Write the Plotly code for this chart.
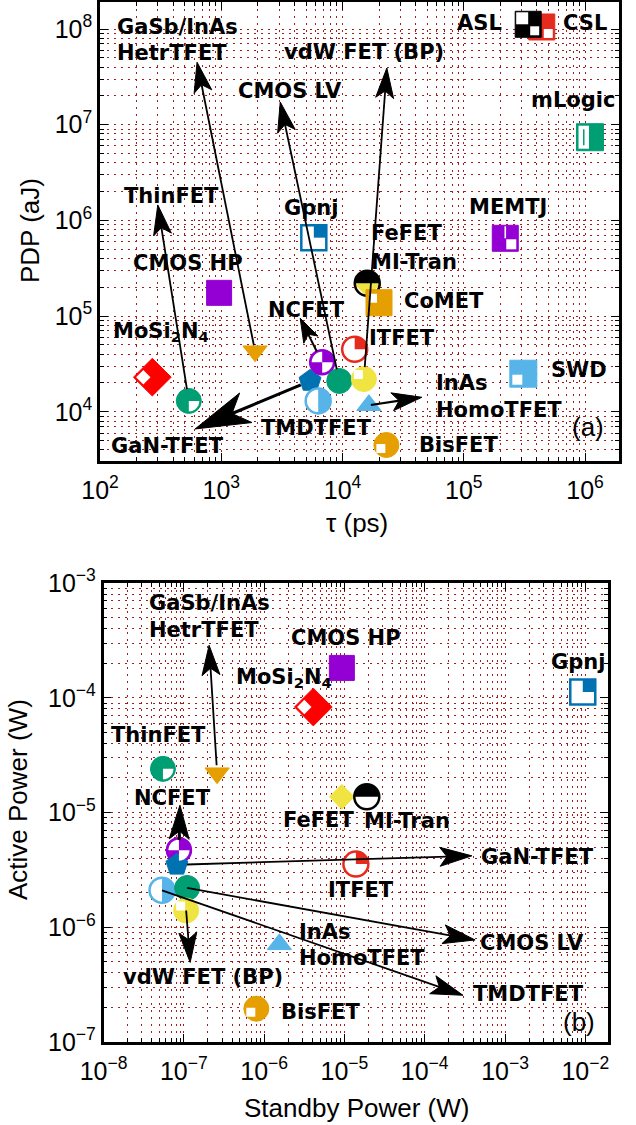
import numpy as np
import plotly.graph_objects as go

W, H = 636, 1125

# ---------------- data ----------------
# Panel (a): delay tau (ps) vs power-delay product PDP (aJ)
a_devices = ["CSL", "ASL", "mLogic", "MEMTJ", "Gpnj", "CMOS HP", "FeFET", "MI-Tran", "CoMET",
             "ITFET", "GaN-TFET", "NCFET", "TMDTFET", "CMOS LV", "vdW FET (BP)",
             "InAs HomoTFET", "ThinFET", "MoSi2N4", "GaSb/InAs HetrTFET", "BisFET", "SWD"]
a_tau_ps = [4.4e5, 3.4e5, 1.1e6, 2.2e5, 5.8e3, 9.6e2, 1.6e4, 1.6e4, 2.0e4,
            1.26e4, 5.4e3, 6.8e3, 6.3e3, 9.4e3, 1.5e4,
            1.65e4, 5.4e2, 2.7e2, 1.9e3, 2.3e4, 3.1e5]
a_pdp_aJ = [1.05e8, 1.12e8, 7.4e6, 6.5e5, 6.6e5, 1.75e5, 2.15e5, 2.2e5, 1.38e5,
            4.5e4, 2.1e4, 3.3e4, 1.3e4, 2.1e4, 2.2e4,
            1.17e4, 1.3e4, 2.3e4, 4.3e4, 4.5e3, 2.5e4]

# Panel (b): standby power (W) vs active power (W)
b_devices = ["CMOS HP", "MoSi2N4", "Gpnj", "ThinFET", "GaSb/InAs HetrTFET", "FeFET", "MI-Tran",
             "NCFET", "GaN-TFET", "ITFET", "TMDTFET", "CMOS LV", "vdW FET (BP)",
             "InAs HomoTFET", "BisFET"]
b_standby_W = [9.3e-6, 4.1e-6, 9.3e-3, 5.5e-8, 2.6e-7, 9.3e-6, 1.9e-5,
               8.7e-8, 8.2e-8, 1.39e-5, 5.35e-8, 1.1e-7, 1.07e-7,
               1.55e-6, 8.0e-7]
b_active_W = [1.82e-4, 8.3e-5, 1.12e-4, 2.4e-5, 2.2e-5, 1.37e-5, 1.37e-5,
              4.7e-6, 3.5e-6, 3.55e-6, 2.1e-6, 2.2e-6, 1.4e-6,
              7.1e-7, 1.95e-7]

x_ticks_a = [2, 3, 4, 5, 6]
y_ticks_a = [4, 5, 6, 7, 8]
x_ticks_b = [-8, -7, -6, -5, -4, -3, -2]
y_ticks_b = [-7, -6, -5, -4, -3]

# ---------------- styles ----------------
GREEN = "#009E73"; ORANGE = "#E69F00"; LBLUE = "#56B4E9"; BLUE = "#0072B2"
YELLOW = "#F0E442"; PURPLE = "#9400D3"; RED = "#FF0000"; RED2 = "#E62A1E"
WHITE = "#FFFFFF"; BLACK = "#000000"
GRID = "#A01E1E"


def sector(r, a0, a1, n=16):
    th = np.radians(np.linspace(a0, a1, n))
    return [(0.0, 0.0)] + [(r * np.cos(t), r * np.sin(t)) for t in th]


def rect(x0, y0, x1, y1):
    return [(x0, y0), (x1, y0), (x1, y1), (x0, y1)]


def small_diamond_left(d):
    c = -d / 2.0
    s = d / 2.0 * 0.8
    return [(c - s, 0), (c, -s), (c + s, 0), (c, s)]


# symbol, size, fill, line color, line width, overlays [(points, color)]  (screen px, y down)
style = {
    "ASL": ("square", 26, BLACK, BLACK, 1, [(rect(-12, -12, 0, 0), WHITE), (rect(2, 2, 11, 11), WHITE)]),
    "CSL": ("square", 26, RED2, RED2, 1, [(rect(2, 2, 11, 11), WHITE)]),
    "mLogic": ("square", 27, GREEN, GREEN, 1, [(rect(-11.5, -11.5, -1, 11.5), WHITE), (rect(-7, -8, -5.5, 8), GREEN)]),
    "MEMTJ": ("square", 26, PURPLE, PURPLE, 1, [(rect(1, 1, 11, 11), WHITE), (rect(-0.8, -12, 0.8, 0), WHITE)]),
    "Gpnj": ("square", 25, WHITE, BLUE, 2.5, [(rect(0, -12.5, 12.5, 0), BLUE)]),
    "CMOS HP": ("square", 25, PURPLE, PURPLE, 1, []),
    "FeFET": ("diamond", 19, YELLOW, YELLOW, 1, []),
    "MI-Tran": ("circle", 25, "rgba(255,255,255,0)", BLACK, 2.5, [(sector(12.5, 180, 360), BLACK)]),
    "CoMET": ("square", 26, ORANGE, ORANGE, 1, [(rect(-10, -9, -2, 0), WHITE)]),
    "ITFET": ("circle", 25, WHITE, RED2, 2.5, [(sector(12.5, -90, 0), RED2)]),
    "GaN-TFET": ("pentagon", 23, BLUE, BLUE, 1, []),
    "NCFET": ("circle", 25, PURPLE, PURPLE, 1.5, [(sector(10.5, 180, 270), WHITE), (sector(10.5, 0, 90), WHITE)]),
    "TMDTFET": ("circle", 25, LBLUE, LBLUE, 2.5, [(sector(11.2, 90, 270, 24), WHITE)]),
    "CMOS LV": ("circle", 25, GREEN, GREEN, 1, []),
    "vdW FET (BP)": ("circle", 25, YELLOW, YELLOW, 1, [(rect(-10, -9, -1, 0), WHITE)]),
    "InAs HomoTFET": ("triangle-up", 21, LBLUE, LBLUE, 1, []),
    "ThinFET": ("circle", 25, GREEN, GREEN, 1, [(sector(10.5, 0, 90), WHITE)]),
    "MoSi2N4": ("diamond", 29, RED, RED, 1, [(small_diamond_left(18), WHITE)]),
    "GaSb/InAs HetrTFET": ("triangle-down", 21, ORANGE, ORANGE, 1, []),
    "BisFET": ("circle", 25, ORANGE, ORANGE, 1, [(rect(-10, -1, -1, 8), WHITE)]),
    "SWD": ("square", 27, LBLUE, LBLUE, 1, [(rect(-11, 1, -1, 11), WHITE)]),
}

# arrows: device -> (dx, dy to tip in screen px, line width, head length, head half width, notch, standoff)
arrows_a = {
    "GaSb/InAs HetrTFET": (-58, -289, 1.8, 30, 9, 7, 6),
    "CMOS LV": (-59, -279, 1.8, 30, 9, 7, 12),
    "vdW FET (BP)": (23, -311, 1.8, 30, 9, 7, 12),
    "ThinFET": (-31, -196, 1.8, 30, 9, 7, 12),
    "NCFET": (-22, -44, 2.0, 24, 8, 6, 12),
    "GaN-TFET": (-115, 48, 3.0, 55, 16, 15, 10),
    "InAs HomoTFET": (53, -8, 2.2, 30, 9, 7, 2),
}
arrows_b = {
    "GaSb/InAs HetrTFET": (-8, -128, 1.8, 30, 9, 7, 8),
    "NCFET": (1, -45, 3.0, 34, 10, 8, 10),
    "GaN-TFET": (295, -9, 1.8, 32, 9.5, 7, 10),
    "CMOS LV": (288, 52, 1.8, 32, 9.5, 7, 0),
    "TMDTFET": (301, 105, 1.8, 32, 9.5, 7, 0),
    "vdW FET (BP)": (4, 52, 1.8, 30, 9, 7, 0),
}

# labels (text, left px, center px)
labels_a = [("GaSb/InAs", 116, 27), ("HetrTFET", 116, 53), ("vdW FET (BP)", 283, 52),
            ("CMOS LV", 237, 91), ("ASL", 456, 23), ("CSL", 562, 23), ("mLogic", 530, 100),
            ("ThinFET", 123, 196), ("Gpnj", 283, 208), ("MEMTJ", 468, 207), ("FeFET", 370, 233),
            ("MI-Tran", 370, 262), ("CMOS HP", 132, 263), ("CoMET", 403, 301), ("NCFET", 267, 310),
            ("MoSi<sub>2</sub>N<sub>4</sub>", 112, 332), ("ITFET", 368, 338), ("SWD", 550, 370),
            ("InAs", 435, 383), ("HomoTFET", 435, 410), ("TMDTFET", 260, 428),
            ("GaN-TFET", 110, 446), ("BisFET", 418, 445)]
labels_b = [("GaSb/InAs", 148, 603), ("HetrTFET", 148, 630), ("CMOS HP", 290, 638),
            ("MoSi<sub>2</sub>N<sub>4</sub>", 235, 678), ("Gpnj", 550, 662), ("ThinFET", 110, 735),
            ("NCFET", 133, 798), ("FeFET", 282, 820), ("MI-Tran", 363, 821), ("ITFET", 327, 890),
            ("GaN-TFET", 480, 857), ("InAs", 298, 932), ("HomoTFET", 298, 958), ("CMOS LV", 479, 943),
            ("vdW FET (BP)", 122, 977), ("TMDTFET", 472, 994), ("BisFET", 280, 1012)]

# ---------------- layout geometry (px) ----------------
A_L, A_R, A_T, A_B = 100, 619, 2, 461
B_L, B_R, B_T, B_B = 103.5, 608, 583, 1042
a_xrange = [2.0, 2.0 + (A_R - A_L) / 121.25]
a_yrange = [8.0 - (A_B - 29) / 95.7, 8.0 + (29 - A_T) / 95.7]
b_xrange = [-8.0, -8.0 + (B_R - B_L) / 80.3]
b_yrange = [-7.0, -3.0]


def fmt(v):
    return f"{v:.2f}"


def path_from(pts, close=True):
    s = "M" + " L".join(f"{fmt(x)},{fmt(-y)}" for x, y in pts)
    return s + (" Z" if close else "")


def pix_shape(xref, yref, x, y, pts, fill, close=True, lcolor="rgba(0,0,0,0)", lw=0):
    return dict(type="path", xref=xref, yref=yref, xsizemode="pixel", ysizemode="pixel",
                xanchor=x, yanchor=y, path=path_from(pts, close),
                fillcolor=fill, line=dict(color=lcolor, width=lw), layer="above")


fig = go.Figure()
shapes = []


def add_panel(devices, xs, ys, xref, yref, arrows, mi_fill):
    xa = "x" if xref == "x" else "x2"
    ya = "y" if yref == "y" else "y2"
    for name, xv, yv in zip(devices, xs, ys):
        sym, size, fill, lc, lw, ovs = style[name]
        if name == "MI-Tran":
            fill = mi_fill
        fig.add_trace(go.Scatter(x=[xv], y=[yv], mode="markers", name=name, xaxis=xa, yaxis=ya,
                                 marker=dict(symbol=sym, size=size, color=fill,
                                             line=dict(color=lc, width=lw)),
                                 showlegend=False, hoverinfo="skip"))
        for pts, col in ovs:
            shapes.append(pix_shape(xref, yref, xv, yv, pts, col))
    # arrows
    for name, xv, yv in zip(devices, xs, ys):
        if name not in arrows:
            continue
        dx, dy, lw, L, wh, nd, so = arrows[name]
        d = np.hypot(dx, dy)
        u = np.array([dx, dy]) / d
        n = np.array([-u[1], u[0]])
        tip = np.array([dx, dy], dtype=float)
        notch = tip - (L - nd) * u
        b1 = tip - L * u + wh * n
        b2 = tip - L * u - wh * n
        start = so * u
        shapes.append(pix_shape(xref, yref, xv, yv, [tuple(start), tuple(notch + 0.5 * u)],
                                "rgba(0,0,0,0)", close=False, lcolor=BLACK, lw=lw))
        shapes.append(pix_shape(xref, yref, xv, yv, [tuple(tip), tuple(b1), tuple(notch), tuple(b2)],
                                BLACK, lcolor=BLACK, lw=1))


add_panel(a_devices, a_tau_ps, a_pdp_aJ, "x", "y", arrows_a, "rgba(255,255,255,0)")
add_panel(b_devices, b_standby_W, b_active_W, "x2", "y2", arrows_b, WHITE)

annotations = []
LBL_FONT = dict(family="DejaVu Sans", size=21, color=BLACK, weight="bold")
for labels in (labels_a, labels_b):
    for txt, lx, ly in labels:
        annotations.append(dict(text=txt, x=lx / W, y=1 - ly / H, xref="paper", yref="paper",
                                xanchor="left", yanchor="middle", showarrow=False, font=LBL_FONT,
                                borderpad=0))

REG_FONT = dict(family="Liberation Sans, Arial", size=26, color=BLACK)
for txt, cx, cy, ang in [("PDP (aJ)", 30, 231, -90), ("τ (ps)", 357, 523, 0),
                         ("Active Power (W)", 18, 800, -90), ("Standby Power (W)", 356, 1108, 0),
                         ("(a)", 588, 427, 0), ("(b)", 579, 1022, 0)]:
    annotations.append(dict(text=txt, x=cx / W, y=1 - cy / H, xref="paper", yref="paper",
                            xanchor="center", yanchor="middle", showarrow=False, font=REG_FONT,
                            textangle=ang))


def axis_common(rng, dom, anchor, tickvals, is_x):
    d = dict(type="log", range=rng, domain=dom, anchor=anchor, autorange=False,
             automargin=False,
             tickmode="array", tickvals=[10.0 ** t for t in tickvals],
             ticktext=[f"10<sup>{'−' if t < 0 else ''}{abs(t)}</sup>" for t in tickvals],
             showline=True, linecolor=BLACK, linewidth=2.5, mirror="ticks",
             ticks="inside", ticklen=8, tickwidth=1.2, tickcolor=BLACK,
             showgrid=True, gridcolor=GRID, griddash="2px,5px", gridwidth=1,
             minor=dict(dtick="D1", ticks="inside", ticklen=4, tickwidth=1, tickcolor=BLACK,
                        showgrid=True, gridcolor=GRID, griddash="2px,5px", gridwidth=1),
             tickfont=dict(family="Liberation Sans, Arial", size=25, color=BLACK),
             zeroline=False)
    if is_x:
        d["ticklabelstandoff"] = 5
    return d


fig.update_layout(
    width=W, height=H, autosize=False,
    margin=dict(l=0, r=0, t=0, b=0, autoexpand=False),
    paper_bgcolor="white", plot_bgcolor="white",
    showlegend=False,
    xaxis=axis_common(a_xrange, [A_L / W, A_R / W], "y", x_ticks_a, True),
    yaxis=axis_common(a_yrange, [1 - A_B / H, 1 - A_T / H], "x", y_ticks_a, False),
    xaxis2=axis_common(b_xrange, [B_L / W, B_R / W], "y2", x_ticks_b, True),
    yaxis2=axis_common(b_yrange, [1 - B_B / H, 1 - B_T / H], "x2", y_ticks_b, False),
    shapes=shapes,
    annotations=annotations,
)

fig.write_html("out.html")
